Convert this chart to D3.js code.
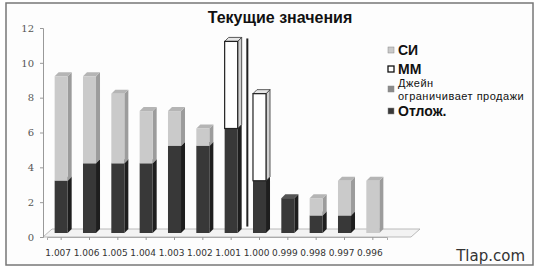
<!DOCTYPE html>
<html>
<head>
<meta charset="utf-8">
<script src="https://cdn.jsdelivr.net/npm/d3@7"></script>
<style>
  body { margin: 0; background: #fff; }
  svg { display: block; }
</style>
</head>
<body>
<div id="chart"></div>
<script>
// data
const categories = ["1.007", "1.006", "1.005", "1.004", "1.003", "1.002", "1.001", "1.000", "0.999", "0.998", "0.997", "0.996"];
const otlozh = [3, 4, 4, 4, 5, 5, 6, 3, 2, 1, 1, 0];
const dzhein = [0, 0, 0, 0, 0, 0, 0, 0, 0, 0, 0, 0];
const mm = [0, 0, 0, 0, 0, 0, 5, 5, 0, 0, 0, 0];
const si = [6, 5, 4, 3, 2, 1, 0, 0, 0, 1, 2, 3];
const yTicks = [0, 2, 4, 6, 8, 10, 12];
// the vertical marker between 1.001 and 1.000
const markerBetween = ["1.001", "1.000"];
const markerRange = [0.6, 11.4];

const width = 537, height = 272;
const depth = { dx: 4, dy: -4 };

const series = [
  { key: "otlozh", name: "Отлож.", values: otlozh, fill: "#383838", side: "#1e1e1e", top: "#555", stroke: "none" },
  { key: "dzhein", name: "Джейн ограничивает продажи", values: dzhein, fill: "#8a8a8a", side: "#6a6a6a", top: "#9a9a9a", stroke: "none" },
  { key: "mm", name: "ММ", values: mm, fill: "#ffffff", side: "#d0d0d0", top: "#e6e6e6", stroke: "#222" },
  { key: "si", name: "СИ", values: si, fill: "#cacaca", side: "#9c9c9c", top: "#b5b5b5", stroke: "none" }
];

const rows = categories.map((c, i) => {
  const r = { cat: c };
  series.forEach(s => r[s.key] = s.values[i]);
  return r;
});
const stacked = d3.stack().keys(series.map(s => s.key))(rows);

const x = d3.scaleBand()
  .domain(categories)
  .range([47, 387])
  .paddingInner(0.54)
  .paddingOuter(0.27);

const y = d3.scaleLinear().domain([0, 12]).range([237, 28]);

const svg = d3.select("#chart").append("svg")
  .attr("width", width)
  .attr("height", height);

// photocopy frame
svg.append("rect")
  .attr("x", 6).attr("y", 3)
  .attr("width", 527).attr("height", 262)
  .attr("fill", "#fdfdfd")
  .attr("stroke", "#777")
  .attr("stroke-width", 1.5);

// title
svg.append("text")
  .attr("x", 280).attr("y", 23)
  .attr("text-anchor", "middle")
  .style("font", "bold 16px 'Liberation Sans', Arial, sans-serif")
  .attr("fill", "#111")
  .text("Текущие значения");

// floor
const fx0 = 43, fx1 = 411, fy = y(0);
svg.append("path")
  .attr("d", `M${fx0},${fy} L${fx1},${fy} L${fx1 + 9},${fy - 8} L${fx0 + 9},${fy - 8} Z`)
  .attr("fill", "#f3f3f3")
  .attr("stroke", "#aaa")
  .attr("stroke-width", 0.8);

// y axis
const yAxis = svg.append("g")
  .attr("transform", `translate(43,0)`)
  .call(d3.axisLeft(y).tickValues(yTicks).tickSize(3).tickFormat(d3.format("d")));
yAxis.select(".domain").attr("stroke", "#999");
yAxis.selectAll(".tick line").attr("stroke", "#999");
yAxis.selectAll(".tick text")
  .attr("x", -9)
  .attr("fill", "#555")
  .style("font", "10px 'DejaVu Serif', serif");

// x axis
const xAxis = svg.append("g")
  .attr("transform", `translate(0,${y(0)})`)
  .call(d3.axisBottom(x).tickSize(3).tickPadding(10));
xAxis.select(".domain").attr("stroke", "#aaa");
xAxis.selectAll(".tick line").attr("stroke", "#999");
xAxis.selectAll(".tick text")
  .attr("dx", -3)
  .attr("fill", "#333")
  .style("font", "9px 'DejaVu Sans', sans-serif");

// 3D stacked bars, pushed back onto the floor
const bars = svg.append("g").attr("transform", "translate(0,-4)");
const bw = x.bandwidth();

stacked.forEach((layer, li) => {
  const s = series[li];
  const g = bars.append("g");
  layer.forEach(d => {
    if (d[1] - d[0] <= 0) return;
    const x0 = x(d.data.cat), y0 = y(d[1]), h = y(d[0]) - y(d[1]);
    // side face
    g.append("path")
      .attr("d", `M${x0 + bw},${y0} L${x0 + bw + depth.dx},${y0 + depth.dy} L${x0 + bw + depth.dx},${y0 + h + depth.dy} L${x0 + bw},${y0 + h} Z`)
      .attr("fill", s.side)
      .attr("stroke", s.stroke === "none" ? "none" : "#333")
      .attr("stroke-width", 0.8);
    // top face
    g.append("path")
      .attr("d", `M${x0},${y0} L${x0 + depth.dx},${y0 + depth.dy} L${x0 + bw + depth.dx},${y0 + depth.dy} L${x0 + bw},${y0} Z`)
      .attr("fill", s.top)
      .attr("stroke", s.stroke === "none" ? "none" : "#333")
      .attr("stroke-width", 0.8);
    // front face
    g.append("rect")
      .attr("x", x0).attr("y", y0)
      .attr("width", bw).attr("height", h)
      .attr("fill", s.fill)
      .attr("stroke", s.stroke)
      .attr("stroke-width", 1.2);
  });
});

// vertical marker line, sitting in the back plane
const mx = (x(markerBetween[0]) + x(markerBetween[1]) + bw) / 2 + depth.dx / 2;
svg.append("line")
  .attr("x1", mx).attr("x2", mx)
  .attr("y1", y(markerRange[1])).attr("y2", y(markerRange[0]))
  .attr("stroke", "#222")
  .attr("stroke-width", 2);

// legend
const legend = [
  { s: series[3], lines: ["СИ"], y: 55, font: "bold 14px 'Liberation Sans', Arial, sans-serif" },
  { s: series[2], lines: ["ММ"], y: 74, font: "bold 14px 'Liberation Sans', Arial, sans-serif" },
  { s: series[1], lines: ["Джейн", "ограничивает продажи"], y: 87, font: "11px 'Liberation Sans', Arial, sans-serif" },
  { s: series[0], lines: ["Отлож."], y: 116, font: "bold 14px 'Liberation Sans', Arial, sans-serif" }
];
const lg = svg.append("g");
legend.forEach(l => {
  lg.append("rect")
    .attr("x", 388).attr("y", l.lines.length > 1 ? l.y - 1 : l.y - 8)
    .attr("width", 6).attr("height", 6)
    .attr("fill", l.s.fill)
    .attr("stroke", l.s.stroke === "none" ? "#888" : "#111")
    .attr("stroke-width", l.s.stroke === "none" ? 0.5 : 1.3);
  const t = lg.append("text")
    .attr("x", 398).attr("y", l.y)
    .style("font", l.font)
    .style("letter-spacing", l.lines.length > 1 ? "0.5px" : "0px")
    .attr("fill", "#111");
  l.lines.forEach((line, i) => {
    t.append("tspan").attr("x", 398).attr("dy", i === 0 ? 0 : 13).text(line);
  });
});

// watermark
svg.append("text")
  .attr("x", 525).attr("y", 261)
  .attr("text-anchor", "end")
  .style("font", "15px 'DejaVu Sans', sans-serif")
  .attr("fill", "#333")
  .text("Tlap.com");
</script>
</body>
</html>
